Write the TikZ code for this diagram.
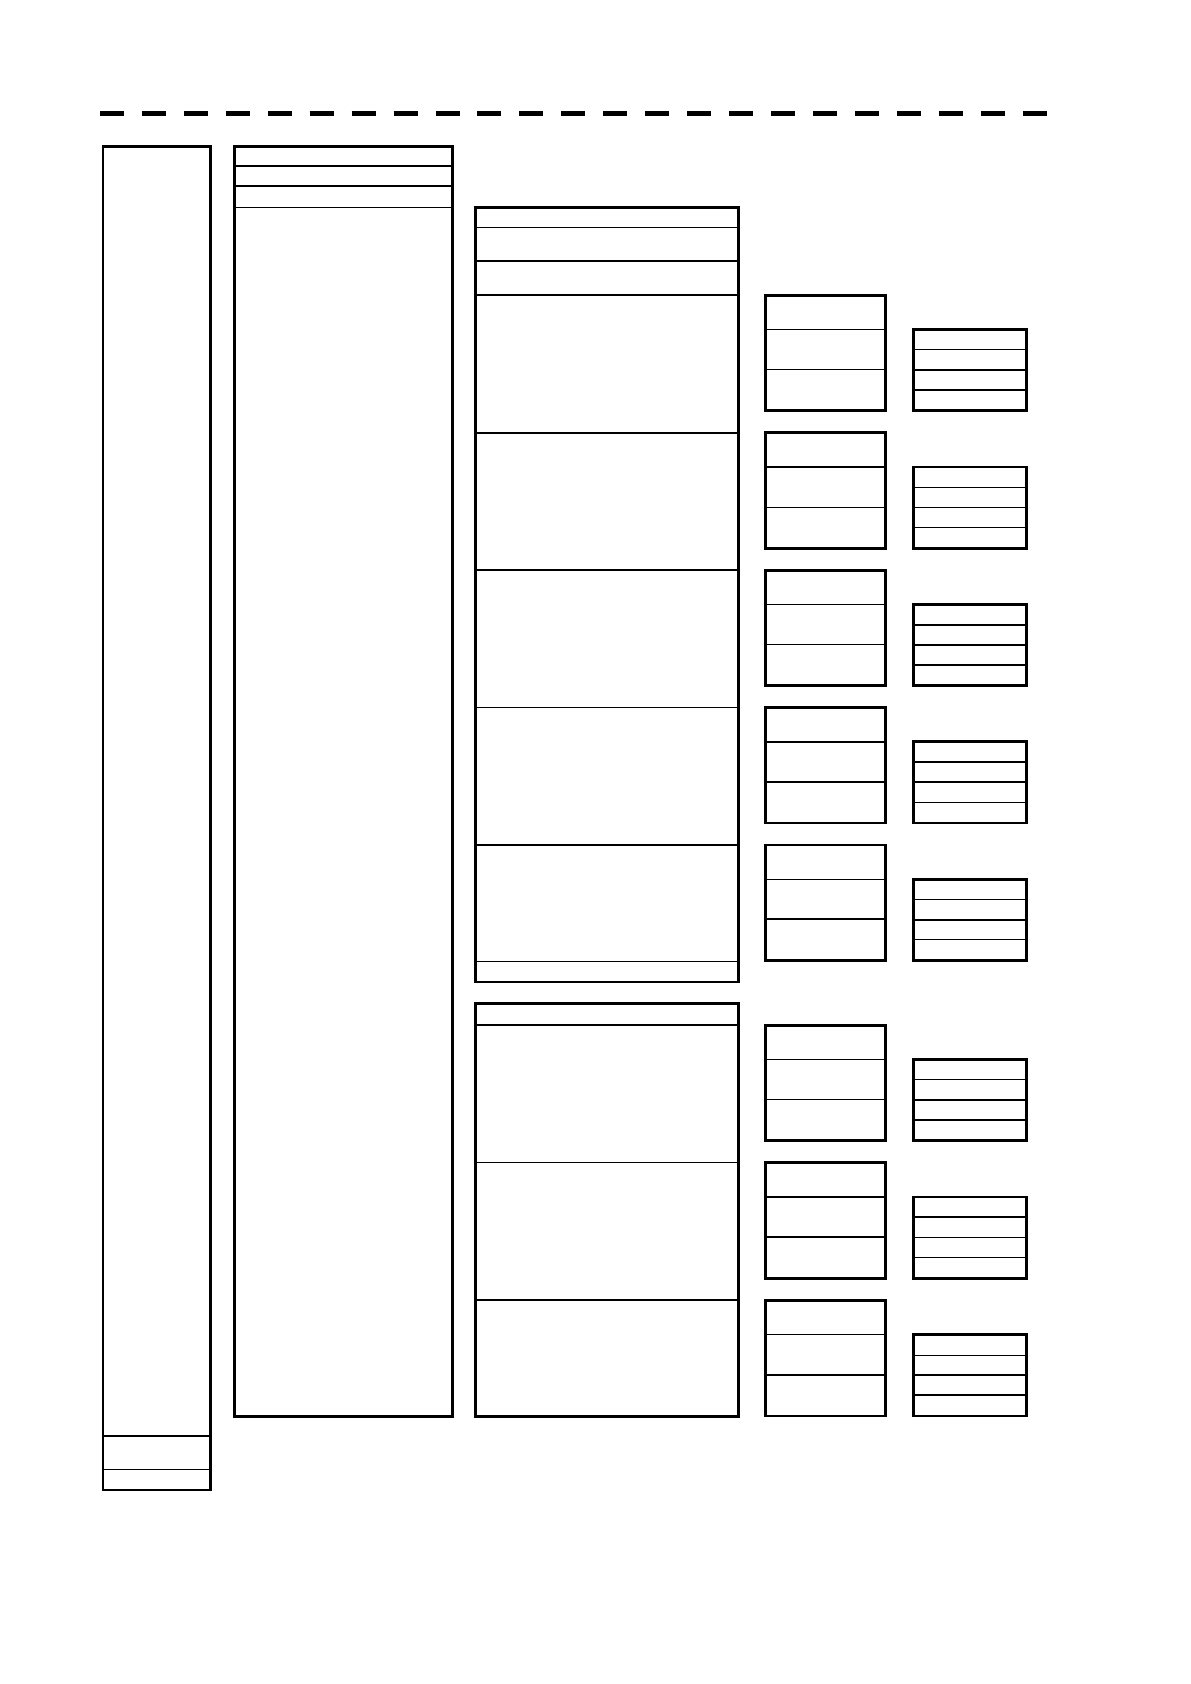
\documentclass[tikz,border=0pt]{standalone}
\begin{document}
\begin{tikzpicture}[x=1pt,y=-1pt,
  frame/.style={line width=2.7pt, line join=miter},
  heavy/.style={line width=1.7pt},
  light/.style={line width=1pt},
  dashrule/.style={line width=4.5pt, dash pattern=on 24pt off 17.94pt}]
\useasboundingbox (0,0) rectangle (1191,1684);
% top dashed rule
\draw[dashrule] (100,113.5) -- (1046.7,113.5);
% box A (left narrow column)
\draw[heavy] (103,1436) -- (210.5,1436);
\draw[light] (103,1469.3) -- (210.5,1469.3);
\draw[frame] (103,146.2) rectangle (210.5,1490);
% box B
\draw[heavy] (234.2,166) -- (452.2,166);
\draw[heavy] (234.2,186) -- (452.2,186);
\draw[light] (234.2,207.3) -- (452.2,207.3);
\draw[frame] (234.2,146.2) rectangle (452.2,1416.5);
% box C
\draw[light] (475.3,227.7) -- (738.5,227.7);
\draw[heavy] (475.3,260.7) -- (738.5,260.7);
\draw[heavy] (475.3,295.3) -- (738.5,295.3);
\draw[heavy] (475.3,432.7) -- (738.5,432.7);
\draw[heavy] (475.3,570.0) -- (738.5,570.0);
\draw[light] (475.3,707.5) -- (738.5,707.5);
\draw[heavy] (475.3,845.0) -- (738.5,845.0);
\draw[heavy] (475.3,961.5) -- (738.5,961.5);
\draw[frame] (475.3,207.3) rectangle (738.5,982);
% box D
\draw[heavy] (475.3,1024.8) -- (738.5,1024.8);
\draw[light] (475.3,1162.5) -- (738.5,1162.5);
\draw[heavy] (475.3,1300.0) -- (738.5,1300.0);
\draw[frame] (475.3,1003.5) rectangle (738.5,1416.5);
% small boxes E and F per row
\foreach \t/\ea/\eb/\fa/\fb/\fc in {
  295.3/1.7/1.7/1/1.7/1.7,
  432.7/1.7/1/1/1/1,
  570.3/1/1.7/1.7/1.7/1.7,
  707.5/1.7/1.7/1.7/1.7/1,
  845.0/1/1.7/1/1.7/1,
  1025.3/1/1.7/1/1.7/1.7,
  1162.7/1.7/1.7/1.7/1.7/1,
  1300.5/1/1.7/1/1.7/1.7}{
  \draw[line width=\ea pt] (765.3,\t+34.3) -- (885.5,\t+34.3);
  \draw[line width=\eb pt] (765.3,\t+74.3) -- (885.5,\t+74.3);
  \draw[frame] (765.3,\t) rectangle (885.5,\t+115.5);
  \draw[line width=\fa pt] (913.3,\t+54.6) -- (1026.7,\t+54.6);
  \draw[line width=\fb pt] (913.3,\t+74.7) -- (1026.7,\t+74.7);
  \draw[line width=\fc pt] (913.3,\t+94.8) -- (1026.7,\t+94.8);
  \draw[frame] (913.3,\t+34.3) rectangle (1026.7,\t+115.5);
}
\end{tikzpicture}
\end{document}
